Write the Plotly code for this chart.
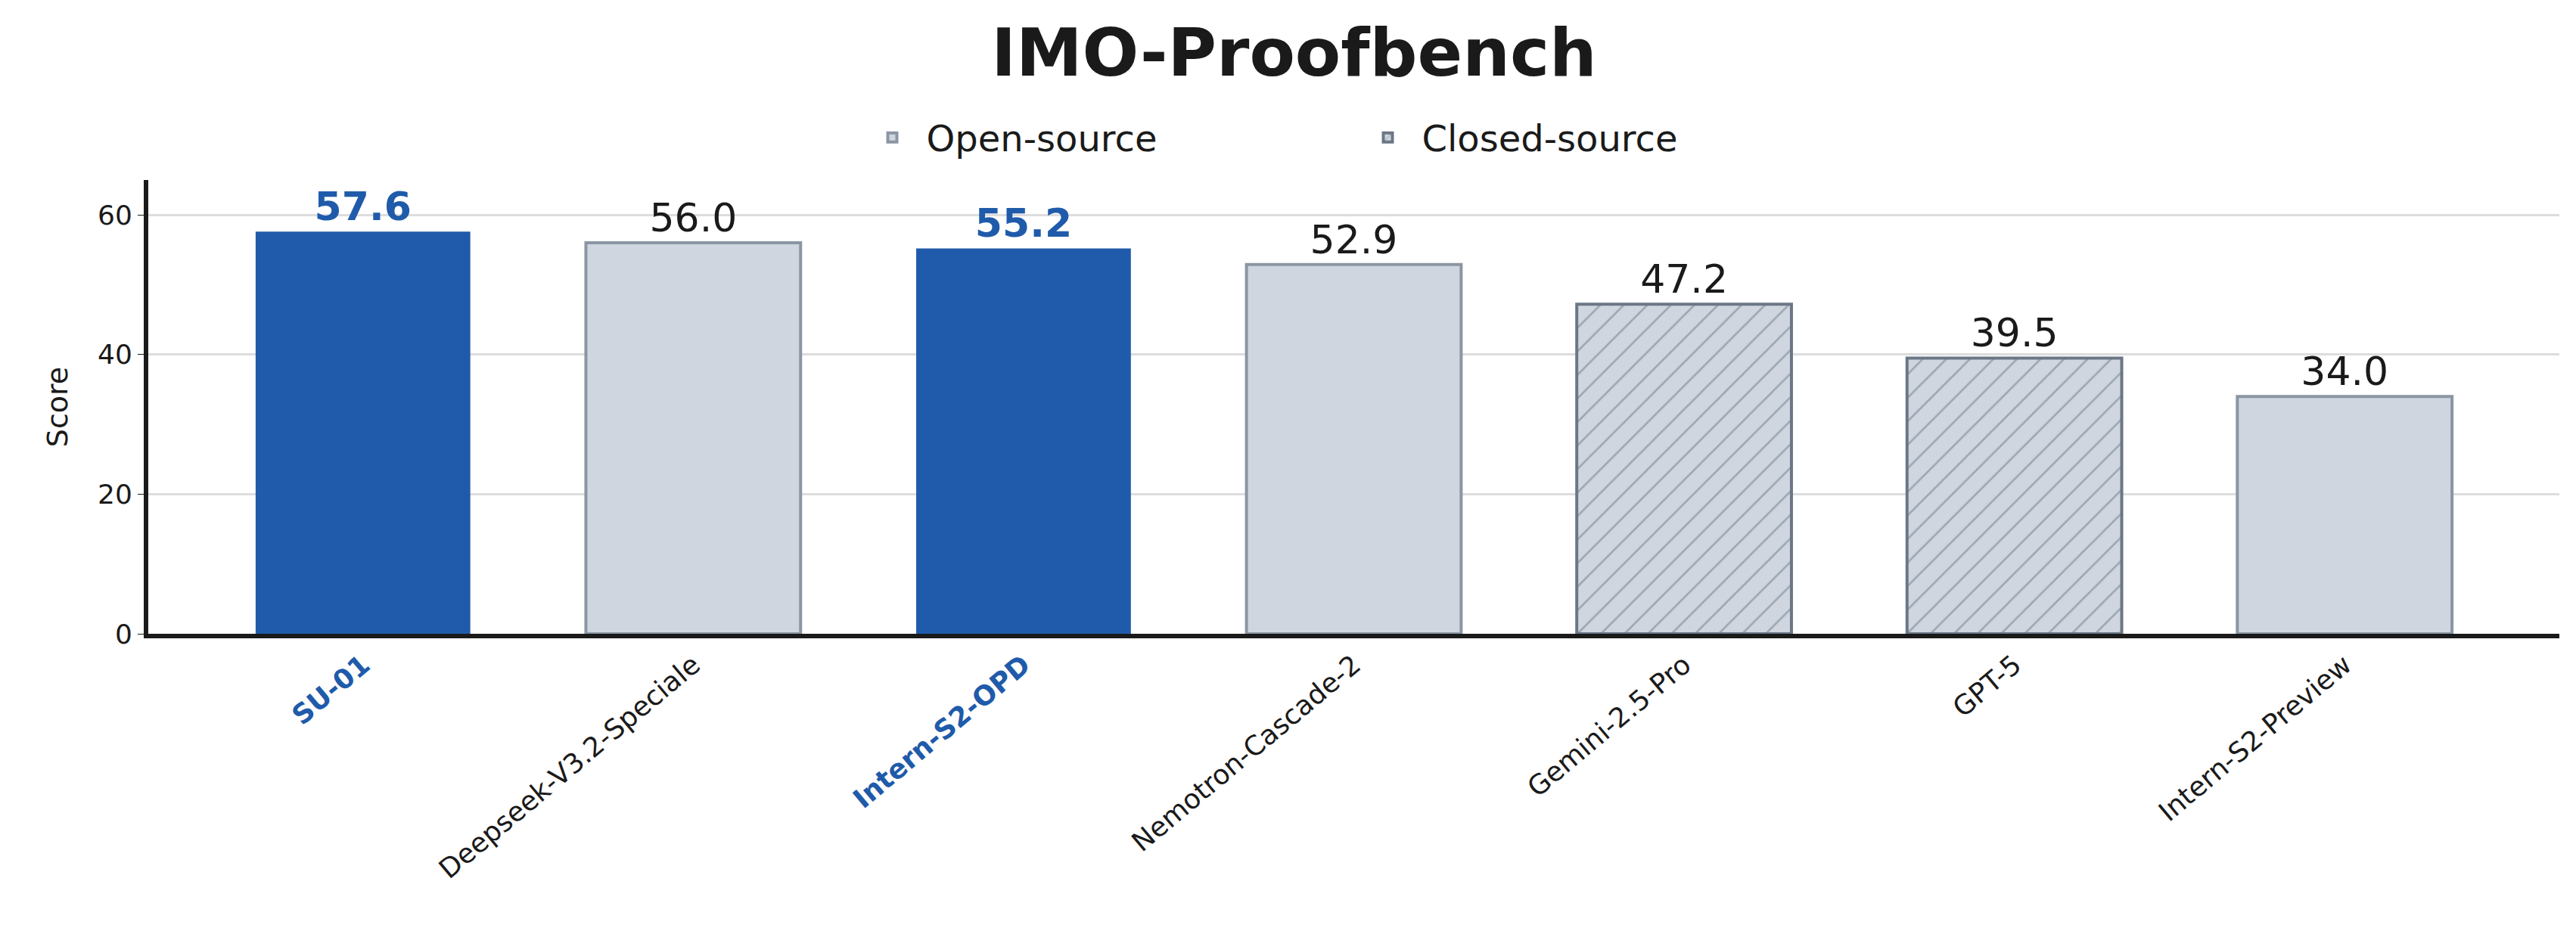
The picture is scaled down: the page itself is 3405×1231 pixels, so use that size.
import plotly.graph_objects as go

models = ["SU-01", "Deepseek-V3.2-Speciale", "Intern-S2-OPD", "Nemotron-Cascade-2",
          "Gemini-2.5-Pro", "GPT-5", "Intern-S2-Preview"]
scores = [57.6, 56.0, 55.2, 52.9, 47.2, 39.5, 34.0]
kind = ["ours", "open", "ours", "open", "closed", "closed", "open"]

BLUE = "#1f5baa"
GRAY = "#cfd6df"

def pick(k):
    xs = [m for m, t in zip(models, kind) if t == k]
    ys = [s for s, t in zip(scores, kind) if t == k]
    return xs, ys

fig = go.Figure()
x, y = pick("ours")
fig.add_bar(x=x, y=y, width=0.65, marker=dict(color=BLUE, line=dict(width=0)),
            showlegend=False, texttemplate="<b>%{y:.1f}</b>", textposition="outside",
            textfont=dict(size=52, color=BLUE), cliponaxis=False)
x, y = pick("open")
fig.add_bar(x=x, y=y, width=0.65, name="Open-source",
            marker=dict(color=GRAY, line=dict(color="#8a96a3", width=4)),
            texttemplate="%{y:.1f}", textposition="outside",
            textfont=dict(size=52, color="#1a1a1a"), cliponaxis=False)
x, y = pick("closed")
fig.add_bar(x=x, y=y, width=0.65, name="Closed-source",
            marker=dict(color=GRAY, line=dict(color="#6b7787", width=4),
                        pattern=dict(shape="/", fgcolor="#6b7787", bgcolor=GRAY, size=22, solidity=0.12)),
            texttemplate="%{y:.1f}", textposition="outside",
            textfont=dict(size=52, color="#1a1a1a"), cliponaxis=False)

ticktext = []
for m, t in zip(models, kind):
    ticktext.append(f"<span style='color:{BLUE}'><b>{m}</b></span>" if t == "ours" else m)

fig.update_layout(
    width=3405, height=1231, barmode="overlay", plot_bgcolor="white", paper_bgcolor="white",
    font=dict(family="DejaVu Sans", color="#1a1a1a"),
    margin=dict(l=188, r=30, t=230, b=401),
    title=dict(text="<b>IMO-Proofbench</b>", x=0.5, xanchor="center", y=0.975, yanchor="top",
               font=dict(size=88, color="#1a1a1a")),
    legend=dict(orientation="h", x=0.5, xanchor="center", y=1.03, yanchor="bottom",
                font=dict(size=48), itemwidth=80, entrywidthmode="pixels", entrywidth=560),
    uniformtext=dict(mode=False),
)
fig.update_xaxes(categoryorder="array", categoryarray=models, tickmode="array",
                 tickvals=models, ticktext=ticktext, tickangle=-40, tickfont=dict(size=36),
                 range=[-0.65, 6.65], showline=True, linecolor="#1a1a1a", linewidth=6,
                 ticks="", showgrid=False)
fig.update_yaxes(range=[0, 65], tickvals=[0, 20, 40, 60], tickfont=dict(size=36),
                 title=dict(text="Score", font=dict(size=38), standoff=30),
                 showline=True, linecolor="#1a1a1a", linewidth=6, gridcolor="#dddddd",
                 gridwidth=3, zeroline=False, ticks="outside", ticklen=8, tickcolor="#1a1a1a")
fig.write_html("out.html")
